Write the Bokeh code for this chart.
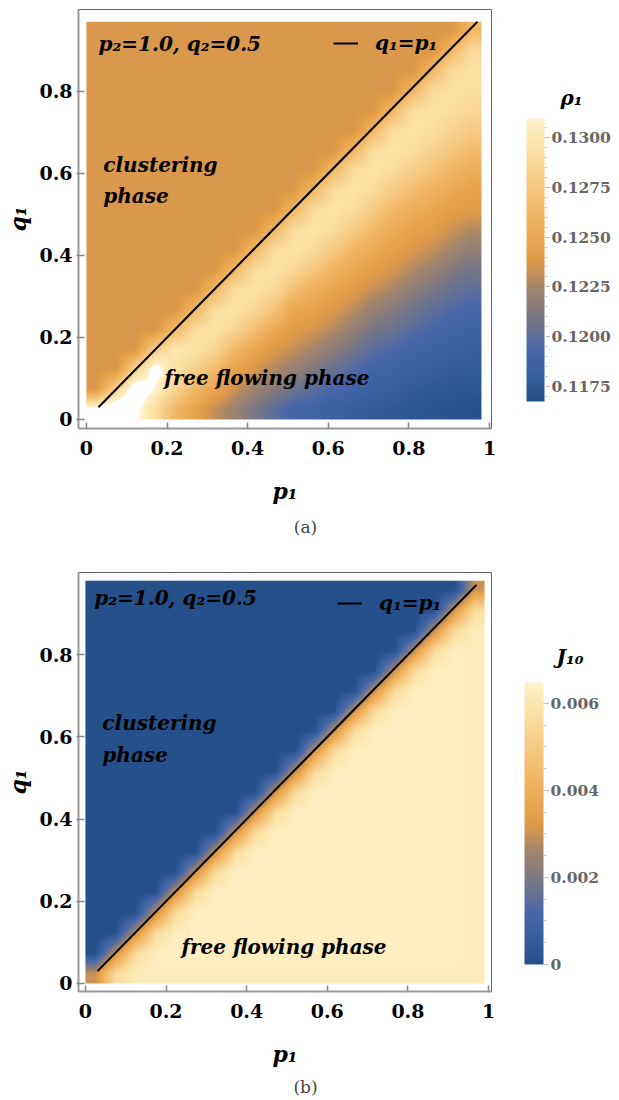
import numpy as np
from bokeh.plotting import figure
from bokeh.models import (LinearColorMapper, ColorBar, FixedTicker, Range1d, Label,
                          Legend, LegendItem, PrintfTickFormatter, Div)
from bokeh.layouts import column
from bokeh.embed import file_html
from bokeh.resources import INLINE

# ---------------- data ----------------
P1_TICKS = [0, 0.2, 0.4, 0.6, 0.8, 1]
Q1_TICKS = [0, 0.2, 0.4, 0.6, 0.8]
RHO_TICKS = [0.1175, 0.1200, 0.1225, 0.1250, 0.1275, 0.1300]
J_TICKS = [0, 0.002, 0.004, 0.006]
RHO_RANGE = [0.11675, 0.13095]
J_RANGE = [0.0, 0.00648]
LINE_P = [0.03, 0.97]          # the line q1 = p1

# rho_1 on a 20 x 20 grid (p1 across, q1 rows listed from top q1~0.95 down to q1~0.02)
RHO_ROWS = [
 [0.1237,0.1237,0.1237,0.1237,0.1237,0.1237,0.1237,0.1237,0.1237,0.1237,0.1237,0.1237,0.1237,0.1237,0.1237,0.1237,0.1237,0.1237,0.1237,0.1262],
 [0.1237,0.1237,0.1237,0.1237,0.1237,0.1237,0.1237,0.1237,0.1237,0.1237,0.1237,0.1237,0.1237,0.1237,0.1237,0.1237,0.1237,0.1237,0.1262,0.1290],
 [0.1237,0.1237,0.1237,0.1237,0.1237,0.1237,0.1237,0.1237,0.1237,0.1237,0.1237,0.1237,0.1237,0.1237,0.1237,0.1237,0.1237,0.1262,0.1290,0.1293],
 [0.1237,0.1237,0.1237,0.1237,0.1237,0.1237,0.1237,0.1237,0.1237,0.1237,0.1237,0.1237,0.1237,0.1237,0.1237,0.1237,0.1262,0.1290,0.1293,0.1292],
 [0.1237,0.1237,0.1237,0.1237,0.1237,0.1237,0.1237,0.1237,0.1237,0.1237,0.1237,0.1237,0.1237,0.1237,0.1237,0.1262,0.1291,0.1294,0.1292,0.1287],
 [0.1237,0.1237,0.1237,0.1237,0.1237,0.1237,0.1237,0.1237,0.1237,0.1237,0.1237,0.1237,0.1237,0.1237,0.1262,0.1291,0.1295,0.1292,0.1284,0.1277],
 [0.1237,0.1237,0.1237,0.1237,0.1237,0.1237,0.1237,0.1237,0.1237,0.1237,0.1237,0.1237,0.1237,0.1262,0.1291,0.1295,0.1291,0.1283,0.1273,0.1265],
 [0.1237,0.1237,0.1237,0.1237,0.1237,0.1237,0.1237,0.1237,0.1237,0.1237,0.1237,0.1237,0.1262,0.1291,0.1295,0.1291,0.1281,0.1271,0.1261,0.1254],
 [0.1237,0.1237,0.1237,0.1237,0.1237,0.1237,0.1237,0.1237,0.1237,0.1237,0.1237,0.1262,0.1291,0.1295,0.1291,0.1278,0.1267,0.1258,0.1250,0.1245],
 [0.1237,0.1237,0.1237,0.1237,0.1237,0.1237,0.1237,0.1237,0.1237,0.1237,0.1262,0.1291,0.1295,0.1291,0.1278,0.1263,0.1254,0.1248,0.1242,0.1240],
 [0.1237,0.1237,0.1237,0.1237,0.1237,0.1237,0.1237,0.1237,0.1237,0.1262,0.1291,0.1295,0.1291,0.1278,0.1263,0.1252,0.1245,0.1241,0.1234,0.1228],
 [0.1237,0.1237,0.1237,0.1237,0.1237,0.1237,0.1237,0.1237,0.1262,0.1291,0.1295,0.1290,0.1276,0.1261,0.1251,0.1244,0.1238,0.1232,0.1224,0.1218],
 [0.1237,0.1237,0.1237,0.1237,0.1237,0.1237,0.1237,0.1262,0.1291,0.1295,0.1288,0.1274,0.1258,0.1249,0.1242,0.1236,0.1228,0.1221,0.1213,0.1208],
 [0.1237,0.1237,0.1237,0.1237,0.1237,0.1237,0.1262,0.1292,0.1295,0.1288,0.1268,0.1256,0.1246,0.1240,0.1232,0.1226,0.1217,0.1210,0.1204,0.1200],
 [0.1237,0.1237,0.1237,0.1237,0.1237,0.1262,0.1292,0.1295,0.1287,0.1270,0.1248,0.1244,0.1238,0.1230,0.1220,0.1214,0.1207,0.1201,0.1196,0.1192],
 [0.1237,0.1237,0.1237,0.1237,0.1265,0.1292,0.1295,0.1286,0.1268,0.1250,0.1240,0.1236,0.1228,0.1219,0.1209,0.1205,0.1198,0.1193,0.1189,0.1186],
 [0.1237,0.1237,0.1237,0.1280,0.1300,0.1295,0.1287,0.1264,0.1248,0.1238,0.1232,0.1225,0.1216,0.1208,0.1199,0.1195,0.1190,0.1186,0.1183,0.1181],
 [0.1237,0.1237,0.1285,0.1318,0.1295,0.1283,0.1265,0.1246,0.1236,0.1228,0.1220,0.1212,0.1204,0.1197,0.1190,0.1187,0.1183,0.1180,0.1178,0.1177],
 [0.1237,0.1285,0.1325,0.1308,0.1283,0.1262,0.1248,0.1234,0.1222,0.1214,0.1206,0.1200,0.1193,0.1188,0.1183,0.1181,0.1177,0.1175,0.1174,0.1173],
 [0.1320,0.1330,0.1315,0.1292,0.1262,0.1245,0.1232,0.1222,0.1210,0.1200,0.1191,0.1188,0.1184,0.1180,0.1177,0.1176,0.1173,0.1171,0.1170,0.1169],
]

# J_10 on a 20 x 20 grid (same orientation)
J10_ROWS = [
 [0,0,0,0,0,0,0,0,0,0,0,0,0,0,0,0,0,0,0,.0030],
 [0,0,0,0,0,0,0,0,0,0,0,0,0,0,0,0,0,0,.0030,.0056],
 [0,0,0,0,0,0,0,0,0,0,0,0,0,0,0,0,0,.0030,.0056,.0062],
 [0,0,0,0,0,0,0,0,0,0,0,0,0,0,0,0,.0030,.0056,.0063,.0062],
 [0,0,0,0,0,0,0,0,0,0,0,0,0,0,0,.0030,.0056,.0063,.0063,.0062],
 [0,0,0,0,0,0,0,0,0,0,0,0,0,0,.0030,.0056,.0063,.0063,.0063,.0062],
 [0,0,0,0,0,0,0,0,0,0,0,0,0,.0030,.0056,.0063,.0063,.0063,.0063,.0062],
 [0,0,0,0,0,0,0,0,0,0,0,0,.0030,.0056,.0063,.0063,.0063,.0063,.0063,.0062],
 [0,0,0,0,0,0,0,0,0,0,0,.0030,.0056,.0063,.0063,.0063,.0063,.0063,.0063,.0062],
 [0,0,0,0,0,0,0,0,0,0,.0030,.0056,.0063,.0063,.0063,.0063,.0063,.0063,.0063,.0062],
 [0,0,0,0,0,0,0,0,0,.0030,.0056,.0063,.0063,.0063,.0063,.0063,.0063,.0063,.0063,.0062],
 [0,0,0,0,0,0,0,0,.0030,.0056,.0063,.0063,.0063,.0063,.0063,.0063,.0063,.0063,.0063,.0062],
 [0,0,0,0,0,0,0,.0030,.0056,.0063,.0063,.0063,.0063,.0063,.0063,.0063,.0063,.0063,.0063,.0062],
 [0,0,0,0,0,0,.0030,.0056,.0063,.0063,.0063,.0063,.0063,.0063,.0063,.0063,.0063,.0063,.0063,.0062],
 [0,0,0,0,0,.0030,.0056,.0063,.0063,.0063,.0063,.0063,.0063,.0063,.0063,.0063,.0063,.0063,.0063,.0062],
 [0,0,0,0,.0030,.0056,.0063,.0063,.0063,.0063,.0063,.0063,.0063,.0063,.0063,.0063,.0063,.0063,.0063,.0062],
 [0,0,0,.0030,.0056,.0063,.0063,.0063,.0063,.0063,.0063,.0063,.0063,.0063,.0063,.0063,.0063,.0063,.0063,.0062],
 [0,0,.0030,.0056,.0063,.0063,.0063,.0063,.0063,.0063,.0063,.0063,.0063,.0063,.0063,.0063,.0063,.0063,.0063,.0062],
 [0,.0030,.0056,.0063,.0063,.0063,.0063,.0063,.0063,.0063,.0063,.0063,.0063,.0063,.0063,.0063,.0063,.0063,.0063,.0062],
 [.0030,.0056,.0062,.0062,.0062,.0062,.0062,.0062,.0062,.0062,.0062,.0062,.0062,.0062,.0062,.0062,.0062,.0062,.0062,.0062],
]

# ---------------- palette ----------------
STOPS = [(0.00, "#25508A"), (0.10, "#3A5FA0"), (0.18, "#4767AA"), (0.30, "#7B7883"),
         (0.40, "#A2846C"), (0.50, "#E09A48"), (0.55, "#E9A24C"), (0.68, "#F1BA6A"),
         (0.82, "#F8D38F"), (0.92, "#FDE5AD"), (1.00, "#FFF3CB")]


def make_palette(stops, n=256):
    fr = [s[0] for s in stops]
    cols = [tuple(int(h[i:i + 2], 16) for i in (1, 3, 5)) for _, h in stops]
    out = []
    for k in range(n):
        t = k / (n - 1)
        for a in range(len(fr) - 1):
            if fr[a] <= t <= fr[a + 1]:
                u = (t - fr[a]) / (fr[a + 1] - fr[a])
                c = [round(cols[a][m] + u * (cols[a + 1][m] - cols[a][m])) for m in range(3)]
                break
        out.append("#%02x%02x%02x" % tuple(c))
    return out


def smooth_display(rows, k=10):
    """Density-plot style display: bilinear shading between the grid cells."""
    g = np.asarray(rows, dtype=float)[::-1]
    nr, nc = g.shape
    fx = (np.arange(nc * k) + 0.5) / k - 0.5
    fy = (np.arange(nr * k) + 0.5) / k - 0.5
    tmp = np.array([np.interp(fx, np.arange(nc), row) for row in g])
    return np.array([np.interp(fy, np.arange(nr), col) for col in tmp.T]).T


PAL = make_palette(STOPS)
SERIF = "DejaVu Serif"
W = 611


def make_panel(rows, img_box, mapper, cb_ticks, cb_minor, cb_fmt, cb_over, cb_title,
               height, borders, xr, yr, texts, legend_loc, cb_loc, cb_dims, title_loc):
    left, right, top, bottom = borders
    p = figure(width=W, height=height, x_range=Range1d(*xr), y_range=Range1d(*yr),
               output_backend="svg", toolbar_location=None,
               min_border_left=left, min_border_right=right,
               min_border_top=top, min_border_bottom=bottom)
    p.background_fill_color = "white"
    p.border_fill_color = "white"
    p.outline_line_color = "#666666"
    p.outline_line_width = 1
    p.grid.visible = False

    x0, y0, dw, dh = img_box
    p.image(image=[smooth_display(rows)], x=x0, y=y0, dw=dw, dh=dh, color_mapper=mapper)

    r = p.line(LINE_P, LINE_P, line_color="black", line_width=2)

    for ax in (p.xaxis[0], p.yaxis[0]):
        ax.axis_line_color = "#999999"
        ax.axis_line_width = 2
        ax.major_tick_line_color = "#888888"
        ax.major_tick_line_width = 1.5
        ax.major_tick_in = 6
        ax.minor_tick_line_color = None
        ax.major_label_text_font = SERIF
        ax.major_label_text_font_style = "bold"
        ax.major_label_text_font_size = "19px"
        ax.major_label_text_color = "black"
        ax.axis_label_text_font = SERIF
        ax.axis_label_text_font_style = "bold italic"
        ax.axis_label_text_font_size = "22px"
        ax.axis_label_text_color = "black"
    p.xaxis.ticker = FixedTicker(ticks=P1_TICKS)
    p.yaxis.ticker = FixedTicker(ticks=Q1_TICKS)
    p.xaxis.major_label_overrides = {t: f"{t:g}" for t in P1_TICKS}
    p.yaxis.major_label_overrides = {t: f"{t:g}" for t in Q1_TICKS}
    p.xaxis.major_tick_out = 0
    p.yaxis.major_tick_out = 2
    p.xaxis.major_label_standoff = 12
    p.yaxis.major_label_standoff = 4
    p.xaxis.axis_label = "p₁"
    p.yaxis.axis_label = "q₁"
    p.xaxis.axis_label_standoff = 20
    p.yaxis.axis_label_standoff = 5

    for (tx, ty, txt) in texts:
        p.add_layout(Label(x=tx, y=ty, text=txt, text_font=SERIF,
                           text_font_style="bold italic", text_font_size="20px",
                           text_baseline="middle", text_color="black"))

    leg = Legend(items=[LegendItem(label="q₁=p₁", renderers=[r])], location=legend_loc,
                 padding=0, margin=0, background_fill_alpha=0, border_line_color=None,
                 label_text_font=SERIF, label_text_font_style="bold italic",
                 label_text_font_size="20px", label_text_color="black",
                 glyph_width=25, glyph_height=20, label_standoff=17)
    p.add_layout(leg)

    cb = ColorBar(color_mapper=mapper,
                  ticker=FixedTicker(ticks=cb_ticks, minor_ticks=cb_minor),
                  formatter=PrintfTickFormatter(format=cb_fmt),
                  major_label_overrides=cb_over,
                  location=cb_loc, width=cb_dims[0], height=cb_dims[1],
                  padding=0, margin=0, bar_line_color=None, border_line_color=None,
                  background_fill_alpha=0, label_standoff=2,
                  major_label_text_font=SERIF, major_label_text_font_style="bold",
                  major_label_text_font_size="15.5px", major_label_text_color="#666666",
                  major_tick_line_color="#aaaaaa", major_tick_in=0, major_tick_out=5,
                  minor_tick_line_color="#cccccc", minor_tick_in=0, minor_tick_out=3)
    p.add_layout(cb)

    # colour-bar heading: a horizontal companion bar whose scale is hidden,
    # so that only its (horizontal) title shows above the vertical bar
    head = ColorBar(color_mapper=mapper, orientation="horizontal",
                    ticker=FixedTicker(ticks=[]), location=title_loc,
                    width=24, height=1, padding=0, margin=0, scale_alpha=0,
                    bar_line_color=None, border_line_color=None, background_fill_alpha=0,
                    major_tick_line_color=None, minor_tick_line_color=None,
                    title=cb_title, title_standoff=0, title_text_font=SERIF,
                    title_text_font_style="bold italic", title_text_font_size="20px",
                    title_text_color="black")
    p.add_layout(head)
    return p


def caption(text, height):
    return Div(text=text, width=W, height=height, margin=(0, 0, 0, 0),
               styles={"text-align": "center", "font-family": "DejaVu Serif",
                       "font-size": "17px", "color": "#444444",
                       "line-height": f"{height}px"})


map_a = LinearColorMapper(palette=PAL, low=RHO_RANGE[0], high=RHO_RANGE[1],
                          high_color="white", low_color=PAL[0])
map_b = LinearColorMapper(palette=PAL, low=J_RANGE[0], high=J_RANGE[1],
                          high_color=PAL[-1], low_color=PAL[0])

rho_minor = [round(0.1170 + 0.0005 * k, 4) for k in range(29)]
j_minor = [round(0.0005 * k, 4) for k in range(14)]

pa = make_panel(
    RHO_ROWS, (0.0, 0.0, 0.98, 0.97), map_a, RHO_TICKS, rho_minor, "%.4f", {},
    "ρ₁", 512, (72, 120, 9, 84), (-0.0196, 1.0049), (-0.022, 1.0),
    [(0.03, 0.917, "p₂=1.0, q₂=0.5"), (0.042, 0.62, "clustering"),
     (0.042, 0.546, "phase"), (0.193, 0.102, "free flowing phase")],
    (255, 373), (448, 27), (18, 283), (482, 318))

pb = make_panel(
    J10_ROWS, (0.0, 0.0, 0.99, 0.98), map_b, J_TICKS, j_minor, "%.3f", {0: "0"},
    "J₁₀", 532, (78, 115, 30, 83), (-0.0172, 1.0073), (-0.0195, 1.0),
    [(0.022, 0.937, "p₂=1.0, q₂=0.5"), (0.042, 0.633, "clustering"),
     (0.042, 0.555, "phase"), (0.238, 0.088, "free flowing phase")],
    (259, 376), (446, 27), (19, 282), (478, 322))

layout = column(pa, caption("(a)", 30), pb, caption("(b)", 26))
open("out.html", "w").write(file_html(layout, INLINE))
